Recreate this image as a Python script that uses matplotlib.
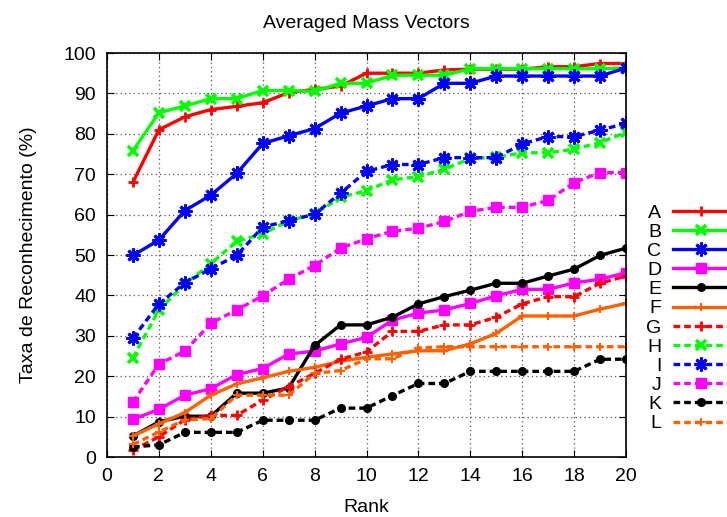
import matplotlib
matplotlib.use("Agg")
import matplotlib.pyplot as plt

plt.rcParams['font.family'] = ['Liberation Sans', 'DejaVu Sans']

rank = list(range(1, 21))

A = [68.0, 81.0, 84.2, 86.0, 86.8, 87.7, 90.2, 91.0, 91.8, 95.0, 95.0, 95.0, 95.8, 96.0, 96.0, 96.0, 96.6, 96.6, 97.4, 97.4]
B = [75.8, 85.2, 86.9, 88.7, 88.7, 90.7, 90.7, 90.5, 92.5, 92.5, 94.5, 94.5, 94.5, 96.1, 96.1, 96.1, 96.1, 96.1, 96.1, 96.3]
C = [49.9, 53.7, 61.0, 64.8, 70.2, 77.6, 79.5, 81.3, 85.1, 86.9, 88.7, 88.7, 92.5, 92.5, 94.3, 94.3, 94.3, 94.3, 94.3, 96.3]
D = [9.3, 11.8, 15.3, 16.9, 20.4, 21.9, 25.5, 26.2, 28.0, 29.6, 33.9, 35.6, 36.4, 38.0, 39.9, 41.5, 41.5, 43.1, 44.0, 45.6]
E = [5.2, 8.7, 10.1, 10.1, 15.8, 15.8, 17.1, 27.6, 32.7, 32.7, 34.6, 37.9, 39.7, 41.3, 43.0, 43.0, 44.8, 46.5, 49.9, 51.7]
F = [5.2, 8.2, 11.0, 15.3, 18.1, 19.6, 21.2, 22.2, 23.7, 24.7, 25.5, 26.3, 26.3, 28.0, 30.6, 34.9, 34.9, 34.9, 36.6, 38.0]
G = [1.7, 5.0, 9.2, 10.3, 10.3, 14.1, 17.4, 20.7, 24.2, 26.0, 31.1, 31.1, 32.7, 32.7, 34.6, 37.9, 39.7, 39.7, 43.0, 44.8]
H = [24.6, 36.4, 42.8, 47.8, 53.4, 55.2, 58.5, 60.1, 64.3, 65.9, 68.6, 69.4, 71.2, 73.9, 74.2, 75.3, 75.3, 76.2, 77.8, 80.4]
I = [29.4, 37.9, 43.1, 46.6, 49.9, 56.9, 58.5, 60.1, 65.3, 70.7, 72.4, 72.4, 74.1, 74.1, 74.1, 77.5, 79.3, 79.3, 80.9, 82.6]
J = [13.6, 23.0, 26.2, 33.1, 36.4, 39.9, 44.0, 47.4, 51.7, 54.0, 55.9, 56.6, 58.3, 60.8, 61.8, 61.8, 63.5, 67.9, 70.4, 70.4]
K = [2.5, 3.0, 6.1, 6.1, 6.1, 9.1, 9.1, 9.1, 12.1, 12.1, 15.2, 18.2, 18.2, 21.2, 21.2, 21.2, 21.2, 21.2, 24.2, 24.2]
L = [3.1, 6.2, 9.2, 9.5, 15.3, 15.3, 15.3, 20.7, 21.4, 24.3, 24.3, 27.0, 27.3, 27.3, 27.3, 27.3, 27.3, 27.3, 27.3, 27.3]

nomes = ['A', 'B', 'C', 'D', 'E', 'F', 'G', 'H', 'I', 'J', 'K', 'L']
series = [A, B, C, D, E, F, G, H, I, J, K, L]

cores = ['#ff0000', '#00ff00', '#0000ff', '#ff00ff', '#000000', '#ff6000']
# marcador, tamanho e espessura por cor (igual nas curvas cheias e tracejadas)
# (8, 2, 0) = asterisco de 8 pontas, como o "*" do gnuplot
marcadores = [('+', 7, 2.0), ('x', 7, 2.6), ((8, 2, 0), 10, 2.0), ('s', 6.5, 1.0), ('o', 5.5, 1.0), ('+', 6, 1.5)]

fig = plt.figure(figsize=(7.27, 5.17), dpi=100)
ax = fig.add_axes([107 / 727, 1 - 457 / 517, (626 - 107) / 727, (457 - 53) / 517])

for i, (nome, y) in enumerate(zip(nomes, series)):
    c = cores[i % 6]
    m, ms, mew = marcadores[i % 6]
    estilo = '-' if i < 6 else (0, (2.0, 1.2))
    ax.plot(rank, y, color=c, linestyle=estilo, linewidth=2.4,
            marker=m, markersize=ms, markeredgewidth=mew,
            markerfacecolor=c, markeredgecolor=c, label=nome)

ax.set_xlim(0, 20)
ax.set_ylim(0, 100)
ax.set_xticks(range(0, 21, 2))
ax.set_yticks(range(0, 101, 10))
ax.tick_params(direction='in', top=True, right=True, labelsize=14, length=5, pad=8)
ax.grid(True, color='#555555', linestyle=(0, (1, 2.5)), linewidth=0.9)
for s in ax.spines.values():
    s.set_linewidth(1.2)

ax.set_title('Averaged Mass Vectors', fontsize=14, pad=18)
ax.set_xlabel('Rank', fontsize=14, labelpad=10)
ax.set_ylabel('Taxa de Reconhecimento (%)', fontsize=14, labelpad=19)

leg = fig.legend(loc='upper left', bbox_to_anchor=(646 / 727, 1 - 204 / 517),
                 frameon=False, markerfirst=False, fontsize=14,
                 handlelength=2.9, handletextpad=0.6, labelspacing=0.08,
                 borderpad=0, borderaxespad=0)

plt.savefig('out.png', dpi=100)
